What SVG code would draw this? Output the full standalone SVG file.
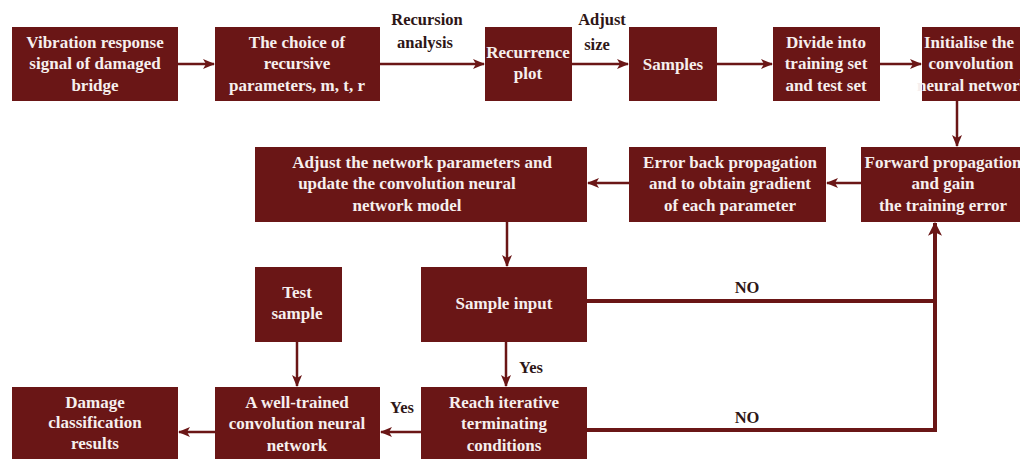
<svg xmlns="http://www.w3.org/2000/svg" width="1020" height="459" viewBox="0 0 1020 459">
  <style>
    .box { fill: #6a1616; }
    .t { font-family: "Liberation Serif", "Times New Roman", serif; font-weight: bold; font-size: 17px; fill: #f6efee; text-anchor: middle; }
    .lbl { font-family: "Liberation Serif", "Times New Roman", serif; font-weight: bold; font-size: 16.5px; fill: #2e1616; text-anchor: middle; }
    .c { stroke: #6a1616; stroke-width: 2.5; fill: none; }
    .cw { stroke: #6a1616; stroke-width: 4; fill: none; }
  </style>
  <defs>
    <marker id="ah" viewBox="0 0 12 10" refX="11" refY="5" markerWidth="12" markerHeight="10" markerUnits="userSpaceOnUse" orient="auto">
      <path d="M0,0 L12,5 L0,10 L3,5 Z" fill="#6a1616"/>
    </marker>
    <marker id="ahw" viewBox="0 0 12 12" refX="11" refY="6" markerWidth="14" markerHeight="14" markerUnits="userSpaceOnUse" orient="auto">
      <path d="M0,0 L12,6 L0,12 L3,6 Z" fill="#6a1616"/>
    </marker>
  </defs>
  <rect width="1020" height="459" fill="#ffffff"/>

  <!-- connectors -->
  <g id="connectors">
    <line class="c" x1="178" y1="64" x2="214" y2="64" marker-end="url(#ah)"/>
    <line class="c" x1="380" y1="64" x2="484" y2="64" marker-end="url(#ah)"/>
    <line class="c" x1="572" y1="64" x2="628" y2="64" marker-end="url(#ah)"/>
    <line class="c" x1="717" y1="64" x2="772" y2="64" marker-end="url(#ah)"/>
    <line class="c" x1="880" y1="64" x2="921" y2="64" marker-end="url(#ah)"/>
    <line class="c" x1="957" y1="101" x2="957" y2="146" marker-end="url(#ah)"/>
    <line class="c" x1="861" y1="183" x2="827" y2="183" marker-end="url(#ah)"/>
    <line class="c" x1="629" y1="183" x2="588" y2="183" marker-end="url(#ah)"/>
    <line class="c" x1="507" y1="222" x2="507" y2="266" marker-end="url(#ah)"/>
    <line class="c" x1="297" y1="342" x2="297" y2="386" marker-end="url(#ah)"/>
    <line class="c" x1="506" y1="342" x2="506" y2="386" marker-end="url(#ah)"/>
    <line class="c" x1="421" y1="432" x2="381" y2="432" marker-end="url(#ah)"/>
    <line class="c" x1="215" y1="432" x2="179" y2="432" marker-end="url(#ah)"/>
    <line class="cw" x1="587" y1="301" x2="935" y2="301"/>
    <polyline class="cw" points="587,430 935,430 935,223" marker-end="url(#ahw)"/>
  </g>

  <!-- connector labels -->
  <g id="labels">
    <text class="lbl" x="427" y="25">Recursion</text>
    <text class="lbl" x="425" y="48">analysis</text>
    <text class="lbl" x="602" y="25">Adjust</text>
    <text class="lbl" x="597" y="50">size</text>
    <text class="lbl" x="747" y="293">NO</text>
    <text class="lbl" x="747" y="423">NO</text>
    <text class="lbl" x="531" y="373">Yes</text>
    <text class="lbl" x="402" y="413">Yes</text>
  </g>

  <g id="n-signal">
    <rect class="box" x="12" y="27" width="166" height="74"/>
    <text class="t" x="95" y="48">Vibration response</text>
    <text class="t" x="95" y="69">signal of damaged</text>
    <text class="t" x="95" y="91">bridge</text>
  </g>
  <g id="n-params">
    <rect class="box" x="215" y="27" width="165" height="74"/>
    <text class="t" x="297" y="48">The choice of</text>
    <text class="t" x="297" y="69">recursive</text>
    <text class="t" x="297" y="91">parameters, m, t, r</text>
  </g>
  <g id="n-plot">
    <rect class="box" x="485" y="27" width="87" height="74"/>
    <text class="t" x="528" y="58">Recurrence</text>
    <text class="t" x="528" y="79">plot</text>
  </g>
  <g id="n-samples">
    <rect class="box" x="629" y="27" width="88" height="74"/>
    <text class="t" x="673" y="70">Samples</text>
  </g>
  <g id="n-divide">
    <rect class="box" x="773" y="27" width="107" height="74"/>
    <text class="t" x="826" y="48">Divide into</text>
    <text class="t" x="826" y="69">training set</text>
    <text class="t" x="826" y="91">and test set</text>
  </g>
  <g id="n-init">
    <rect class="box" x="922" y="27" width="114" height="74"/>
    <text class="t" x="969" y="48">Initialise the</text>
    <text class="t" x="971" y="69">convolution</text>
    <text class="t" x="973" y="91">neural network</text>
  </g>
  <g id="n-forward">
    <rect class="box" x="861" y="147" width="170" height="75"/>
    <text class="t" x="943" y="168">Forward propagation</text>
    <text class="t" x="943" y="189">and gain</text>
    <text class="t" x="943" y="211">the training error</text>
  </g>
  <g id="n-backprop">
    <rect class="box" x="629" y="147" width="197" height="75"/>
    <text class="t" x="730" y="168">Error back propagation</text>
    <text class="t" x="730" y="189">and to obtain gradient</text>
    <text class="t" x="730" y="211">of each parameter</text>
  </g>
  <g id="n-adjust">
    <rect class="box" x="255" y="147" width="332" height="75"/>
    <text class="t" x="422" y="168">Adjust the network parameters and</text>
    <text class="t" x="407" y="189">update the convolution neural</text>
    <text class="t" x="407" y="211">network model</text>
  </g>
  <g id="n-test">
    <rect class="box" x="255" y="267" width="87" height="75"/>
    <text class="t" x="297" y="298">Test</text>
    <text class="t" x="297" y="319">sample</text>
  </g>
  <g id="n-input">
    <rect class="box" x="421" y="267" width="166" height="75"/>
    <text class="t" x="504" y="309">Sample input</text>
  </g>
  <g id="n-reach">
    <rect class="box" x="421" y="387" width="166" height="75"/>
    <text class="t" x="504" y="408">Reach iterative</text>
    <text class="t" x="504" y="429">terminating</text>
    <text class="t" x="504" y="451">conditions</text>
  </g>
  <g id="n-trained">
    <rect class="box" x="215" y="387" width="165" height="75"/>
    <text class="t" x="297" y="408">A well-trained</text>
    <text class="t" x="297" y="429">convolution neural</text>
    <text class="t" x="297" y="451">network</text>
  </g>
  <g id="n-result">
    <rect class="box" x="12" y="387" width="166" height="75"/>
    <text class="t" x="95" y="408">Damage</text>
    <text class="t" x="95" y="428">classification</text>
    <text class="t" x="95" y="449">results</text>
  </g>
</svg>
